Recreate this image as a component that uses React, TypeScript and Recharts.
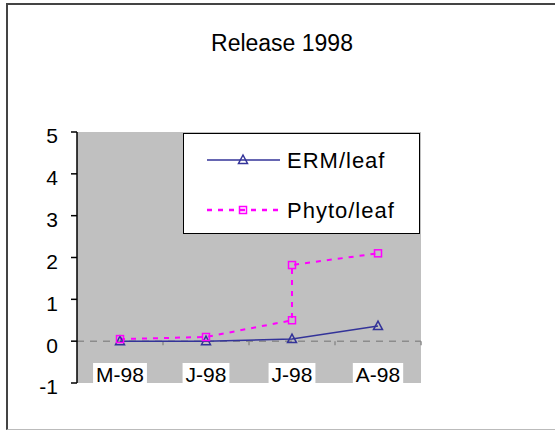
import React from "react";
import { LineChart, Line, XAxis, YAxis, CartesianGrid, ReferenceLine, Legend } from "recharts";

const categories = ["M-98", "J-98", "J-98", "A-98"];
const ermX = [0, 1, 2, 3];
const ermValues = [0.0, 0.0, 0.05, 0.36];
const phytoX = [0, 1, 2, 2, 3];
const phytoValues = [0.05, 0.1, 0.5, 1.82, 2.1];
const yTicks = [-1, 0, 1, 2, 3, 4, 5];
const boundaries = [0.5, 1.5, 2.5, 3.5];

const ermData = ermX.map((x, i) => ({ x, y: ermValues[i] }));
const phytoData = phytoX.map((x, i) => ({ x, y: phytoValues[i] }));

const FONT = "Arial, 'Liberation Sans', sans-serif";
const ERM_COLOR = "#333399";
const PHYTO_COLOR = "#FF00FF";

let ctx: CanvasRenderingContext2D | null = null;
function textWidth(s: string, size: number) {
  if (!ctx) ctx = document.createElement("canvas").getContext("2d");
  if (!ctx) return s.length * size * 0.55;
  ctx.font = `${size}px ${FONT}`;
  return ctx.measureText(s).width;
}

function Triangle({ cx, cy, color }: any) {
  if (cx == null || cy == null) return null;
  return (
    <polygon
      points={`${cx},${cy - 5} ${cx - 4.5},${cy + 3.5} ${cx + 4.5},${cy + 3.5}`}
      fill="none"
      stroke={color}
      strokeWidth={1.5}
    />
  );
}

function Square({ cx, cy, color }: any) {
  if (cx == null || cy == null) return null;
  return <rect x={cx - 3.5} y={cy - 3.5} width={7} height={7} fill="none" stroke={color} strokeWidth={1.5} />;
}

// labels sit inside the plot, on white boxes just above its bottom edge
function CategoryTick({ x, y, payload }: any) {
  const label = categories[payload.value] ?? "";
  const w = textWidth(label, 21) + 6;
  const base = y - 20; // axis top = plot bottom
  return (
    <g>
      <rect x={x - w / 2} y={base - 20} width={w} height={20} fill="#ffffff" />
      <text x={x} y={base - 1} textAnchor="middle" fontSize={21} fontFamily={FONT} fill="#000">
        {label}
      </text>
    </g>
  );
}

const legendItems = [
  { name: "ERM/leaf", color: ERM_COLOR, dash: undefined, width: 1.5, marker: "triangle" },
  { name: "Phyto/leaf", color: PHYTO_COLOR, dash: "5 6", width: 2.5, marker: "square" },
];

function LegendBox() {
  return (
    <div
      style={{
        width: 235,
        height: 99,
        border: "1.5px solid #000",
        background: "#fff",
        position: "relative",
      }}
    >
      <svg width={235} height={99}>
        {legendItems.map((it, i) => {
          const cy = 26 + i * 50;
          return (
            <g key={it.name}>
              <line x1={23} x2={96} y1={cy} y2={cy} stroke={it.color} strokeWidth={it.width} strokeDasharray={it.dash} />
              {it.marker === "triangle" ? (
                <Triangle cx={59} cy={cy} color={it.color} />
              ) : (
                <Square cx={59} cy={cy} color={it.color} />
              )}
              <text x={103} y={cy + 8} fontSize={22} fontFamily={FONT} fill="#000" letterSpacing={1}>
                {it.name}
              </text>
            </g>
          );
        })}
      </svg>
    </div>
  );
}

export default function App() {
  return (
    <div style={{ position: "absolute", left: 0, top: 0, width: 555, height: 430, background: "#fff", overflow: "hidden" }}>
      {/* outer frame */}
      <div
        style={{
          position: "absolute",
          left: 6,
          top: 3,
          width: 560,
          height: 424,
          borderLeft: "2px solid #444",
          borderTop: "2px solid #444",
          borderBottom: "1px solid #bbb",
        }}
      />
      <div
        style={{
          position: "absolute",
          left: 172,
          width: 220,
          top: 32,
          textAlign: "center",
          fontFamily: FONT,
          fontSize: 23,
          lineHeight: "23px",
          color: "#000",
        }}
      >
        Release 1998
      </div>
      <div style={{ position: "absolute", left: 0, top: 0 }}>
        <LineChart width={555} height={430} margin={{ top: 132, right: 134, bottom: 17, left: 37 }}>
          <CartesianGrid horizontal={false} vertical={false} fill="#c0c0c0" />
          <XAxis
            type="number"
            dataKey="x"
            domain={[-0.5, 3.5]}
            ticks={[0, 1, 2, 3]}
            interval={0}
            height={30}
            axisLine={false}
            tickLine={false}
            tickSize={0}
            tickMargin={20}
            tick={<CategoryTick />}
          />
          <YAxis
            type="number"
            domain={[-1, 5]}
            ticks={yTicks}
            width={40}
            interval={0}
            axisLine={{ stroke: "#000", strokeWidth: 1.5 }}
            tickLine={{ stroke: "#000", strokeWidth: 1.5 }}
            tickSize={6}
            tickMargin={13}
            tick={{ fill: "#000", fontSize: 21, fontFamily: FONT, dy: 4 }}
          />
          <ReferenceLine y={0} stroke="#8c8c8c" strokeWidth={1.5} strokeDasharray="7 6" />
          {boundaries.map((b) => (
            <ReferenceLine
              key={b}
              segment={[
                { x: b, y: 0 },
                { x: b, y: -0.1 },
              ]}
              stroke="#8c8c8c"
              strokeWidth={1.5}
            />
          ))}
          <Line
            data={ermData}
            dataKey="y"
            name="ERM/leaf"
            type="linear"
            stroke={ERM_COLOR}
            strokeWidth={1.5}
            dot={(p: any) => <Triangle key={p.index} cx={p.cx} cy={p.cy} color={ERM_COLOR} />}
            activeDot={false}
            isAnimationActive={false}
          />
          <Line
            data={phytoData}
            dataKey="y"
            name="Phyto/leaf"
            type="linear"
            stroke={PHYTO_COLOR}
            strokeWidth={2}
            strokeDasharray="5 6"
            dot={(p: any) => <Square key={p.index} cx={p.cx} cy={p.cy} color={PHYTO_COLOR} />}
            activeDot={false}
            isAnimationActive={false}
          />
          <Legend
            layout="vertical"
            align="center"
            verticalAlign="middle"
            content={() => <LegendBox />}
            wrapperStyle={{ position: "absolute", left: 183, top: 133, width: 238, height: 102 }}
          />
        </LineChart>
      </div>
    </div>
  );
}
